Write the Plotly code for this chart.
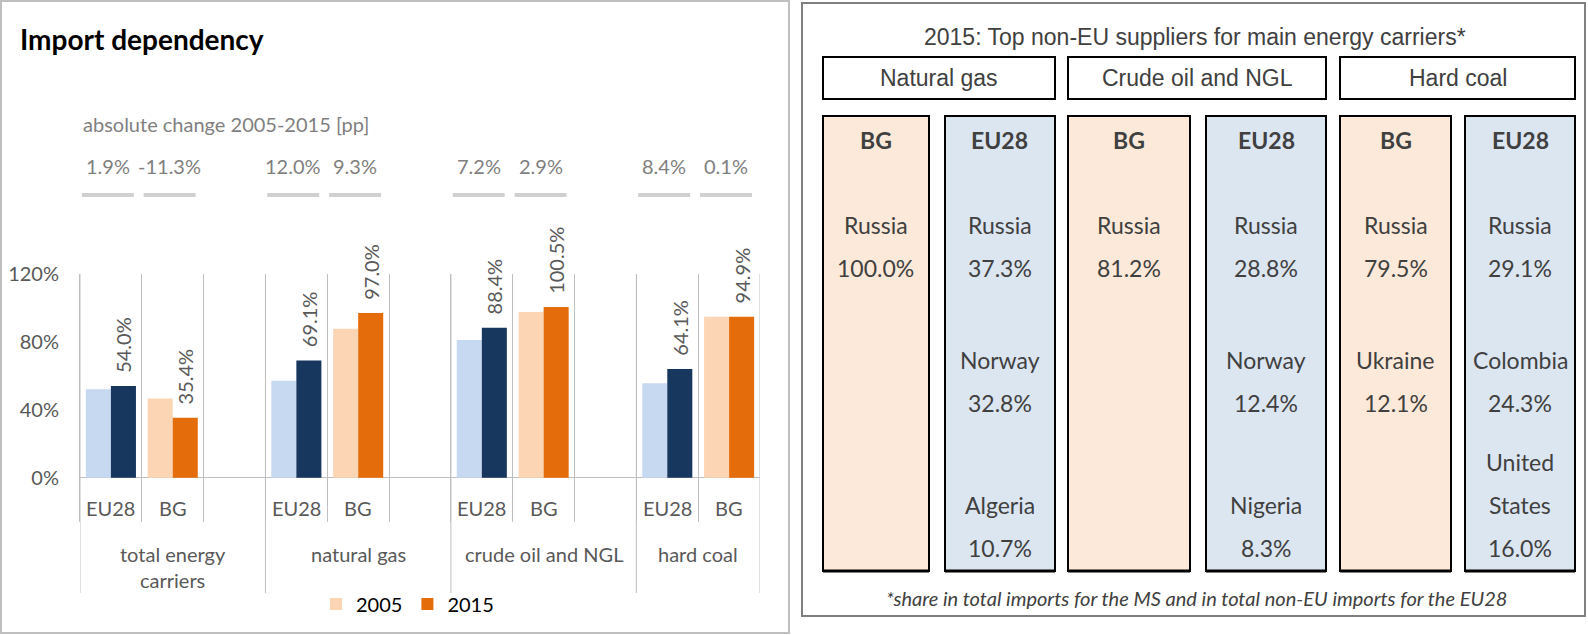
import plotly.graph_objects as go

W, H = 1588, 635

# ---- left panel: import dependency (%)
groups = ["total energy carriers", "natural gas", "crude oil and NGL", "hard coal"]
group_labels = ["total energy<br>carriers", "natural gas", "crude oil and NGL", "hard coal"]
regions = ["EU28", "BG"]
eu28_2005 = [52.1, 57.1, 81.2, 55.7]
eu28_2015 = [54.0, 69.1, 88.4, 64.1]
bg_2005 = [46.7, 87.7, 97.6, 94.8]
bg_2015 = [35.4, 97.0, 100.5, 94.9]
change_eu28 = [1.9, 12.0, 7.2, 8.4]
change_bg = [-11.3, 9.3, 2.9, 0.1]
y_ticks = [0, 40, 80, 120]

# ---- right panel: top non-EU suppliers 2015 (share %)
carriers = ["Natural gas", "Crude oil and NGL", "Hard coal"]
bg_suppliers = [["Russia"], ["Russia"], ["Russia", "Ukraine"]]
bg_shares = [[100.0], [81.2], [79.5, 12.1]]
eu_suppliers = [["Russia", "Norway", "Algeria"],
                ["Russia", "Norway", "Nigeria"],
                ["Russia", "Colombia", "United States"]]
eu_shares = [[37.3, 32.8, 10.7], [28.8, 12.4, 8.3], [29.1, 24.3, 16.0]]

FONT = "Lato"
NARROW = "Liberation Sans Narrow, Liberation Sans, Arial"
GREY = "#595959"
LIGHT = "#7f7f7f"
DARK = "#404040"
C_EU05, C_EU15 = "#c6d9f1", "#17375e"
C_BG05, C_BG15 = "#fcd5b5", "#e46c0a"


def px(x):
    return x / W


def py(y):
    return 1 - y / H


def label(x, y, text, size, color, xref="paper", **kw):
    d = dict(xref=xref, yref="paper", x=x, y=y, text=text, showarrow=False,
             xanchor="center", yanchor="middle", font=dict(size=size, color=color))
    d.update(kw)
    return d


# category slots: EU28, BG, gap for each group (no gap after the last one)
cats = []
for gi, g in enumerate(groups):
    cats += [g + "|EU28", g + "|BG"]
    if gi < len(groups) - 1:
        cats.append(g + "|gap")
x_eu = [g + "|EU28" for g in groups]
x_bg = [g + "|BG" for g in groups]

fig = go.Figure()
pad = "\u00a0\u00a0"
lbl = dict(textposition="outside", textangle=-90, cliponaxis=False, constraintext="none",
           textfont=dict(family=FONT, size=20, color=GREY))
fig.add_bar(x=x_eu, y=eu28_2005, marker_color=C_EU05, offsetgroup="a", showlegend=False,
            textposition="none")
fig.add_bar(x=x_eu, y=eu28_2015, marker_color=C_EU15, offsetgroup="b", showlegend=False,
            text=[f"{pad}{v:.1f}%" for v in eu28_2015], **lbl)
fig.add_bar(x=x_bg, y=bg_2005, marker_color=C_BG05, offsetgroup="a", name="2005",
            textposition="none")
fig.add_bar(x=x_bg, y=bg_2015, marker_color=C_BG15, offsetgroup="b", name="2015",
            text=[f"{pad}{v:.1f}%" for v in bg_2015], **lbl)
fig.update_traces(hoverinfo="skip", marker_line_width=0)

y_top, y_bot = 274, 522
fig.update_layout(
    width=W, height=H, margin=dict(l=0, r=0, t=0, b=0, autoexpand=False),
    paper_bgcolor="white", plot_bgcolor="white",
    barmode="group", bargap=0.19, bargroupgap=0,
    font=dict(family=FONT, color=GREY, size=20),
    xaxis=dict(domain=[px(80), px(760)], type="category", categoryorder="array",
               categoryarray=cats, range=[-0.5, len(cats) - 0.5], automargin=False,
               showticklabels=False, ticks="", tickson="boundaries",
               showgrid=True, gridcolor="#bfbfbf", gridwidth=1, zeroline=False),
    yaxis=dict(domain=[py(y_bot), py(y_top)], range=[-26, 120], automargin=False,
               tickvals=y_ticks, ticktext=[f"{v}%" for v in y_ticks],
               tickfont=dict(size=20, color=GREY), ticklabelstandoff=16,
               showgrid=False, showline=True, linecolor="#bfbfbf", linewidth=1,
               zeroline=True, zerolinecolor="#bfbfbf", zerolinewidth=1),
    legend=dict(orientation="h", x=px(316), y=py(604), xanchor="left", yanchor="middle",
                font=dict(size=20, color="black"), itemwidth=30, bgcolor="rgba(0,0,0,0)"),
)

shapes = []
ann = []

# group dividers below the axis and labels
start = 0
for gi, g in enumerate(groups):
    n = 3 if gi < len(groups) - 1 else 2
    shapes.append(dict(type="line", xref="x", yref="paper", x0=start - 0.5, x1=start - 0.5,
                       y0=py(593), y1=py(y_top), line=dict(color="#bfbfbf", width=1)))
    ann.append(label(start + 0.5 if n == 2 else start + 1, py(540), group_labels[gi], 20, GREY,
                     xref="x", yanchor="top"))
    for ri, (r, ch) in enumerate(zip(regions, [change_eu28[gi], change_bg[gi]])):
        idx = start + ri
        ann.append(label(idx, py(508), r, 20, GREY, xref="x"))
        ann.append(label(idx - 0.05, py(166), f"{ch:.1f}%", 20, LIGHT, xref="x"))
        shapes.append(dict(type="line", xref="x", yref="paper", x0=idx - 0.47, x1=idx + 0.37,
                           y0=py(195), y1=py(195), line=dict(color="#d0d0d0", width=4)))
    start += n
shapes.append(dict(type="line", xref="x", yref="paper", x0=start - 0.5, x1=start - 0.5,
                   y0=py(593), y1=py(y_top), line=dict(color="#bfbfbf", width=1)))

ann.append(label(px(18), py(39), "<b>Import dependency</b>", 28, "black", xanchor="left"))
ann.append(label(px(81), py(124), "absolute change 2005-2015 [pp]", 20, LIGHT, xanchor="left"))

# panel frames
shapes.append(dict(type="rect", xref="paper", yref="paper", x0=px(1), x1=px(789),
                   y0=py(633), y1=py(1), line=dict(color="#bfbfbf", width=2)))
shapes.append(dict(type="rect", xref="paper", yref="paper", x0=px(802), x1=px(1585),
                   y0=py(616), y1=py(3), line=dict(color="#7f7f7f", width=2)))

# right panel: header and supplier boxes
head_x = [(823, 1055), (1068, 1326), (1340, 1575)]
box_x = [((823, 929), (945, 1055)), ((1068, 1190), (1206, 1326)), ((1340, 1451), (1465, 1575))]
name_y = [225, 360, 505]
line_step = 43

ann.append(label(px(1195), py(37), "2015: Top non-EU suppliers for main energy carriers*", 23, DARK,
                 font=dict(family=NARROW, size=23, color=DARK)))
for ci, c in enumerate(carriers):
    x0, x1 = head_x[ci]
    shapes.append(dict(type="rect", xref="paper", yref="paper", x0=px(x0), x1=px(x1),
                       y0=py(99), y1=py(57), fillcolor="white", line=dict(color="black", width=2)))
    ann.append(label(px((x0 + x1) / 2), py(78), c, 23, DARK,
                     font=dict(family=NARROW, size=23, color=DARK)))
    for bi, (reg, fill, names, shares) in enumerate([
            ("BG", "#fde9d9", bg_suppliers[ci], bg_shares[ci]),
            ("EU28", "#dce6f1", eu_suppliers[ci], eu_shares[ci])]):
        b0, b1 = box_x[ci][bi]
        xc = px((b0 + b1) / 2)
        shapes.append(dict(type="rect", xref="paper", yref="paper", x0=px(b0), x1=px(b1),
                           y0=py(571), y1=py(116), fillcolor=fill, layer="below",
                           line=dict(color="black", width=2)))
        # slightly heavier bottom edge, as in the source table
        shapes.append(dict(type="line", xref="paper", yref="paper", x0=px(b0), x1=px(b1),
                           y0=py(571), y1=py(571), line=dict(color="black", width=3)))
        ann.append(label(xc, py(140), f"<b>{reg}</b>", 23, DARK))
        for k, (nm, sh) in enumerate(zip(names, shares)):
            for li, part in enumerate(reversed(nm.split(" "))):
                ann.append(label(xc, py(name_y[k] - li * line_step), part, 23, DARK))
            ann.append(label(xc, py(name_y[k] + line_step), f"{sh:.1f}%", 23, DARK))

ann.append(label(px(1196), py(598),
                 "<i>*share in total imports for the MS and in total non-EU imports for the EU28</i>",
                 20, DARK))

fig.update_layout(shapes=shapes, annotations=ann)
# the page's default body margin would push the 1588x635 figure off the window
fig.write_html("out.html", config={"displayModeBar": False},
               post_script="document.body.style.margin = '0px';")
